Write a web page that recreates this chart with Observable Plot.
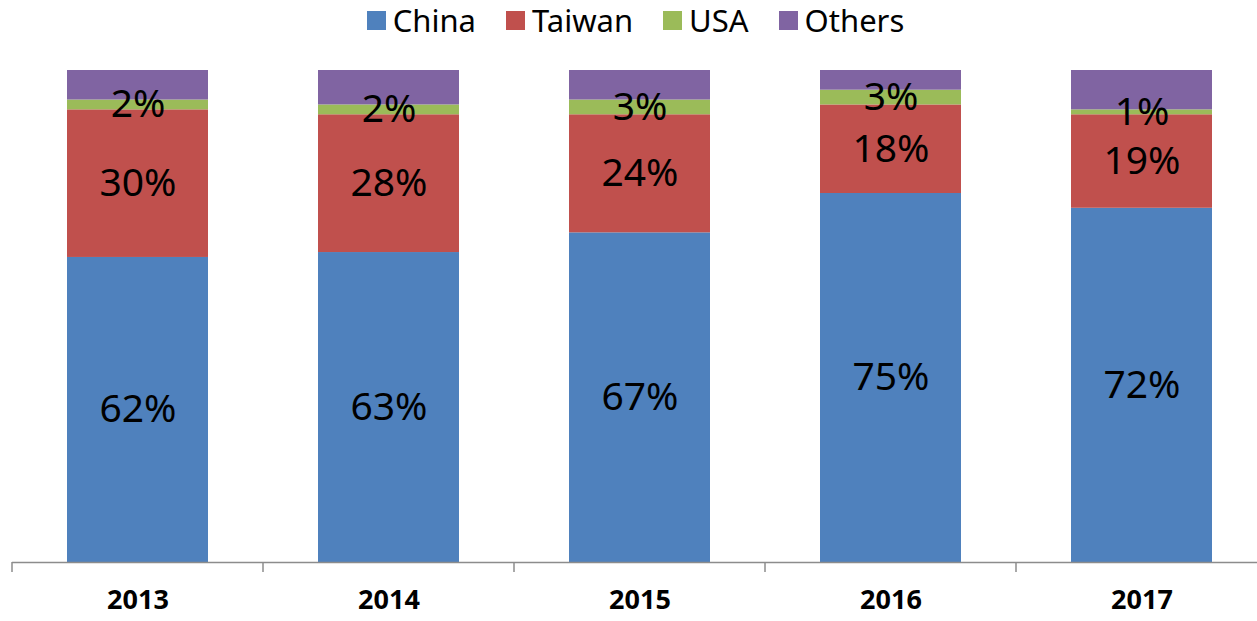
<!DOCTYPE html>
<html><head><meta charset="utf-8">
<script src="https://cdn.jsdelivr.net/npm/d3@7"></script>
<script src="https://cdn.jsdelivr.net/npm/@observablehq/plot@0.6"></script>
<style>
body{margin:0;background:#fff;font-family:"Noto Sans",sans-serif;}
#legend{height:40px;display:flex;justify-content:center;align-items:center;gap:30px;padding-left:14px;font-size:31px;color:#000;line-height:1;}
.item{display:flex;align-items:center;gap:7px}
.sw{width:19px;height:19px;display:inline-block}
</style></head><body>
<div id="legend"></div><div id="chart"></div>
<script>
const years = ["2013","2014","2015","2016","2017"];
const countries = ["China","Taiwan","USA","Others"];
const colors = ["#4F81BD","#C0504D","#9BBB59","#8064A2"];
const china = [62,63,67,75,72];
const taiwan = [30,28,24,18,19];
const usa = [2,2,3,3,1];
const others = [6,7,6,4,8];
const labeled = ["China","Taiwan","USA"];

const series = {China: china, Taiwan: taiwan, USA: usa, Others: others};
const data = [];
years.forEach((y, i) => countries.forEach(c => data.push({year: y, country: c, value: series[c][i]})));

const legend = document.getElementById("legend");
countries.forEach((c, i) => {
  const it = document.createElement("div"); it.className = "item";
  const sw = document.createElement("span"); sw.className = "sw"; sw.style.background = colors[i];
  const t = document.createElement("span"); t.textContent = c;
  it.appendChild(sw); it.appendChild(t); legend.appendChild(it);
});

const chart = Plot.plot({
  width: 1257, height: 581,
  marginTop: 30, marginBottom: 59, marginLeft: 12, marginRight: 0,
  style: {fontFamily: "'Noto Sans', sans-serif", background: "#fff", color: "#000"},
  x: {domain: years, range: [12, 1267], paddingInner: 0.44, paddingOuter: 0.22, axis: null},
  y: {domain: [0, 100], axis: null},
  color: {domain: countries, range: colors},
  marks: [
    Plot.barY(data, {x: "year", y: "value", fill: "country", order: countries}),
    Plot.text(data, Plot.stackY({x: "year", y: "value", z: "country", order: countries,
      text: d => labeled.includes(d.country) ? d.value + "%" : "",
      fontSize: 39, fill: "#000"})),
    Plot.ruleY([0], {stroke: "#8c8c8c", strokeWidth: 1.5}),
    Plot.text(years, {x: d => d, frameAnchor: "bottom", dy: 46, fontSize: 27, fontWeight: "bold", fill: "#000"})
  ]
});
document.getElementById("chart").appendChild(chart);

// category boundary ticks, positioned via Plot's x and y scales
const xs = chart.scale("x"), ys = chart.scale("y");
const starts = years.map(y => xs.apply(y));
const step = starts[1] - starts[0];
const half = (step - xs.bandwidth) / 2;
const bounds = starts.map(s => s - half).concat([starts[starts.length - 1] + xs.bandwidth + half]);
const y0 = ys.apply(0);
const svg = d3.select(chart);
svg.append("g").selectAll("line").data(bounds).join("line")
  .attr("x1", d => d).attr("x2", d => d).attr("y1", y0).attr("y2", y0 + 10)
  .attr("stroke", "#8c8c8c").attr("stroke-width", 1.5);
</script>
</body></html>
